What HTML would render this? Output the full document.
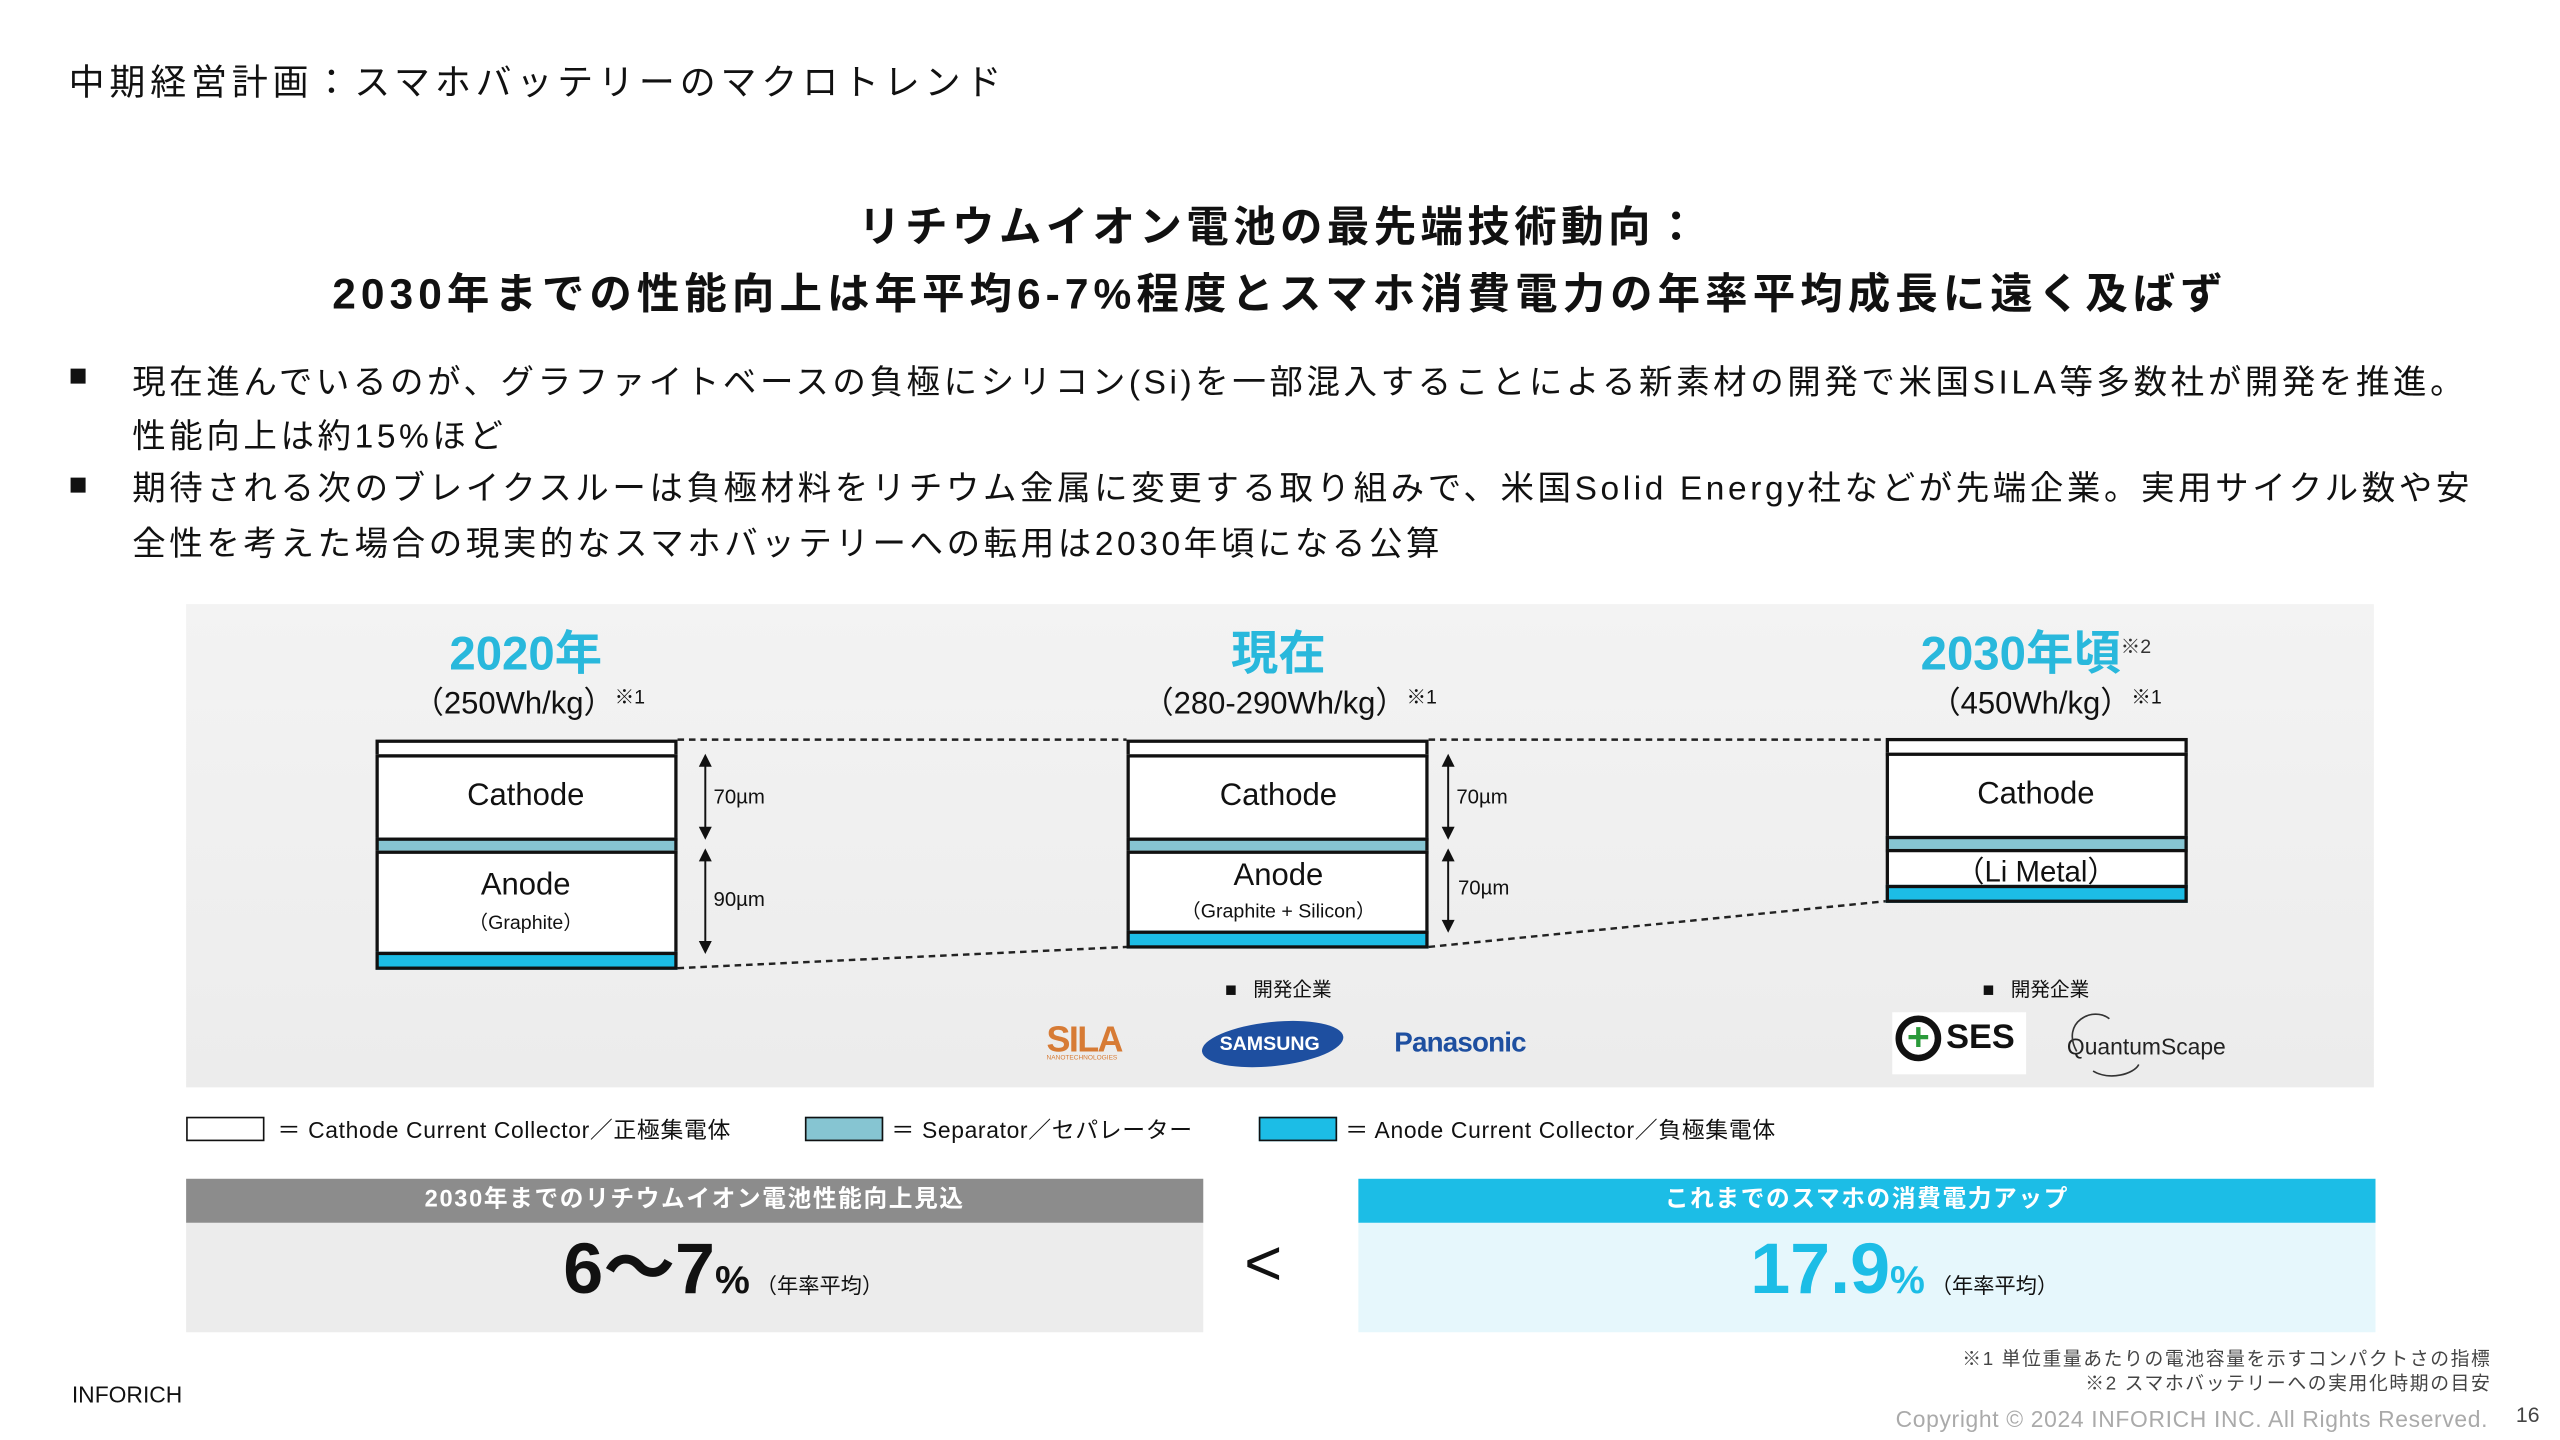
<!DOCTYPE html>
<html><head><meta charset="utf-8"><style>
html,body{margin:0;padding:0;background:#fff;overflow:hidden}
#w{position:absolute;left:0;top:0;width:1568px;height:882px;transform:scale(1.63265);transform-origin:0 0;font-family:"Liberation Sans","Noto Sans CJK JP",sans-serif;color:#111}
.a{position:absolute;white-space:nowrap}
.c{text-align:center;transform:translateX(-50%)}
.box{position:absolute;border:2px solid #111;box-sizing:border-box}
</style></head><body><div id="w">
<div class="a" style="left:42px;top:33px;font-size:22px;letter-spacing:3px">中期経営計画：スマホバッテリーのマクロトレンド</div>
<div class="a c" style="left:784px;top:119px;font-size:26px;font-weight:bold;letter-spacing:2.7px">リチウムイオン電池の最先端技術動向：</div>
<div class="a c" style="left:784px;top:160px;font-size:26px;font-weight:bold;letter-spacing:3.1px">2030年までの性能向上は年平均6-7%程度とスマホ消費電力の年率平均成長に遠く及ばず</div>
<div class="a" style="left:42px;top:220px;font-size:19px">■</div>
<div class="a" style="left:81px;top:218px;font-size:20.5px;line-height:33px;letter-spacing:2.2px">現在進んでいるのが、グラファイトベースの負極にシリコン(Si)を一部混入することによる新素材の開発で米国SILA等多数社が開発を推進。<br>性能向上は約15%ほど</div>
<div class="a" style="left:42px;top:287px;font-size:19px">■</div>
<div class="a" style="left:81px;top:283px;font-size:20.5px;line-height:34px;letter-spacing:2.2px">期待される次のブレイクスルーは負極材料をリチウム金属に変更する取り組みで、米国Solid Energy社などが先端企業。実用サイクル数や安<br>全性を考えた場合の現実的なスマホバッテリーへの転用は2030年頃になる公算</div>

<div class="a" style="left:114px;top:370px;width:1340px;height:296px;background:linear-gradient(#f3f3f3,#ececec)"></div>

<svg class="a" style="left:0;top:0" width="1568" height="882">
<g stroke="#222" stroke-width="1.5" stroke-dasharray="4,3" fill="none">
<line x1="415" y1="453" x2="690" y2="453"/><line x1="875" y1="453" x2="1155" y2="453"/>
<line x1="415" y1="593" x2="690" y2="580"/><line x1="875" y1="580" x2="1155" y2="552"/>
</g>
<g stroke="#111" stroke-width="1.2" fill="#111">
<line x1="432" y1="466" x2="432" y2="510"/><path d="M429 469 L432 463 L435 469Z M429 507 L432 513 L435 507Z"/>
<line x1="432" y1="524" x2="432" y2="580"/><path d="M429 527 L432 521 L435 527Z M429 577 L432 583 L435 577Z"/>
<line x1="887" y1="466" x2="887" y2="510"/><path d="M884 469 L887 463 L890 469Z M884 507 L887 513 L890 507Z"/>
<line x1="887" y1="524" x2="887" y2="567"/><path d="M884 527 L887 521 L890 527Z M884 564 L887 570 L890 564Z"/>
</g>
</svg>

<!-- 2020 -->
<div class="a c" style="left:322px;top:377px;font-size:29px;font-weight:bold;color:#29b8dc">2020年</div>
<div class="a c" style="left:324px;top:416px;font-size:19px">（250Wh/kg）<span style="font-size:12px;vertical-align:6px">※1</span></div>
<div class="box" style="left:230px;top:453px;width:185px;height:11px;background:#fff"></div>
<div class="box" style="left:230px;top:462px;width:185px;height:53px;background:#fff"></div>
<div class="box" style="left:230px;top:513px;width:185px;height:10px;background:#86c5d2"></div>
<div class="box" style="left:230px;top:521px;width:185px;height:64px;background:#fff"></div>
<div class="box" style="left:230px;top:583px;width:185px;height:11px;background:#1cbde6"></div>
<div class="a c" style="left:322px;top:477px;font-size:19px">Cathode</div>
<div class="a c" style="left:322px;top:532px;font-size:19px">Anode</div>
<div class="a c" style="left:322px;top:556px;font-size:12px">（Graphite）</div>
<div class="a" style="left:437px;top:481px;font-size:12.5px">70µm</div>
<div class="a" style="left:437px;top:544px;font-size:12.5px">90µm</div>

<!-- now -->
<div class="a c" style="left:783px;top:377px;font-size:29px;font-weight:bold;color:#29b8dc">現在</div>
<div class="a c" style="left:790px;top:416px;font-size:19px">（280-290Wh/kg）<span style="font-size:12px;vertical-align:6px">※1</span></div>
<div class="box" style="left:690px;top:453px;width:185px;height:11px;background:#fff"></div>
<div class="box" style="left:690px;top:462px;width:185px;height:53px;background:#fff"></div>
<div class="box" style="left:690px;top:513px;width:185px;height:10px;background:#86c5d2"></div>
<div class="box" style="left:690px;top:521px;width:185px;height:51px;background:#fff"></div>
<div class="box" style="left:690px;top:570px;width:185px;height:11px;background:#1cbde6"></div>
<div class="a c" style="left:783px;top:477px;font-size:19px">Cathode</div>
<div class="a c" style="left:783px;top:526px;font-size:19px">Anode</div>
<div class="a c" style="left:783px;top:549px;font-size:12px">（Graphite + Silicon）</div>
<div class="a" style="left:892px;top:481px;font-size:12.5px">70µm</div>
<div class="a" style="left:893px;top:537px;font-size:12.5px">70µm</div>
<div class="a c" style="left:783px;top:597px;font-size:12px">■&nbsp;&nbsp; 開発企業</div>
<div class="a" style="left:641px;top:624px;font-size:22px;font-weight:bold;color:#d77b35;letter-spacing:-1px">SILA</div>
<div class="a" style="left:641px;top:645px;font-size:4px;color:#d77b35">NANOTECHNOLOGIES</div>
<div class="a" style="left:736px;top:626px;width:87px;height:27px;border-radius:50%;background:#1e4fa0;transform:rotate(-6deg)"></div>
<div class="a" style="left:747px;top:632px;font-size:12px;font-weight:bold;color:#fff">SAMSUNG</div>
<div class="a" style="left:854px;top:629px;font-size:17px;font-weight:bold;color:#1e4fa0;letter-spacing:-0.5px">Panasonic</div>

<!-- 2030 -->
<div class="a c" style="left:1247px;top:377px;font-size:29px;font-weight:bold;color:#29b8dc">2030年頃<span style="font-size:12px;color:#333;font-weight:normal;vertical-align:10px">※2</span></div>
<div class="a c" style="left:1253px;top:416px;font-size:19px">（450Wh/kg）<span style="font-size:12px;vertical-align:6px">※1</span></div>
<div class="box" style="left:1155px;top:452px;width:185px;height:11px;background:#fff"></div>
<div class="box" style="left:1155px;top:461px;width:185px;height:53px;background:#fff"></div>
<div class="box" style="left:1155px;top:512px;width:185px;height:10px;background:#86c5d2"></div>
<div class="box" style="left:1155px;top:520px;width:185px;height:24px;background:#fff"></div>
<div class="box" style="left:1155px;top:542px;width:185px;height:11px;background:#1cbde6"></div>
<div class="a c" style="left:1247px;top:476px;font-size:19px">Cathode</div>
<div class="a c" style="left:1247px;top:520px;font-size:18px">（Li Metal）</div>
<div class="a c" style="left:1247px;top:597px;font-size:12px">■&nbsp;&nbsp; 開発企業</div>
<div class="a" style="left:1159px;top:620px;width:82px;height:38px;background:#fff"></div>
<div class="a" style="left:1161px;top:622px;width:28px;height:28px;border:4px solid #111;border-radius:50%;box-sizing:border-box;color:#2a9a3a;font-size:24px;font-weight:bold;line-height:20px;text-align:center">+</div>
<div class="a" style="left:1192px;top:624px;font-size:21px;font-weight:bold">SES</div>
<div class="a" style="left:1266px;top:633px;font-size:14px;color:#222">QuantumScape</div>
<svg class="a" style="left:1262px;top:616px" width="60" height="46"><path d="M10 28 C0 10 20 0 30 8 M20 40 C30 46 45 42 48 36" stroke="#333" fill="none"/></svg>

<!-- legend -->
<div class="a" style="left:114px;top:684px;width:46px;height:13px;border:1.5px solid #111;background:#fff"></div>
<div class="a" style="left:170px;top:682px;font-size:14px;letter-spacing:0.4px">＝ Cathode Current Collector／正極集電体</div>
<div class="a" style="left:493px;top:684px;width:46px;height:13px;border:1.5px solid #111;background:#86c5d2"></div>
<div class="a" style="left:546px;top:682px;font-size:14px;letter-spacing:0.4px">＝ Separator／セパレーター</div>
<div class="a" style="left:771px;top:684px;width:46px;height:13px;border:1.5px solid #111;background:#1cbde6"></div>
<div class="a" style="left:824px;top:682px;font-size:14px;letter-spacing:0.4px">＝ Anode Current Collector／負極集電体</div>

<!-- bottom -->
<div class="a" style="left:114px;top:722px;width:623px;height:27px;background:#8c8c8c;color:#fff;font-size:14.5px;font-weight:bold;text-align:center;line-height:27px;letter-spacing:1px">2030年までのリチウムイオン電池性能向上見込</div>
<div class="a" style="left:114px;top:749px;width:623px;height:67px;background:#ececec"></div>
<div class="a" style="left:345px;top:752px;font-size:44px;font-weight:bold;line-height:52px">6～7<span style="font-size:24px">%</span><span style="font-size:13px;font-weight:normal"> （年率平均）</span></div>
<div class="a" style="left:762px;top:752px;font-size:40px">&lt;</div>
<div class="a" style="left:832px;top:722px;width:623px;height:27px;background:#1cbde6;color:#fff;font-size:14.5px;font-weight:bold;text-align:center;line-height:27px;letter-spacing:1px">これまでのスマホの消費電力アップ</div>
<div class="a" style="left:832px;top:749px;width:623px;height:67px;background:#e6f7fc"></div>
<div class="a" style="left:1072px;top:752px;font-size:44px;font-weight:bold;color:#1cbde6;line-height:52px">17.9<span style="font-size:24px">%</span><span style="font-size:13px;font-weight:normal;color:#111"> （年率平均）</span></div>

<div class="a" style="left:44px;top:846px;font-size:14px">INFORICH</div>
<div class="a" style="right:42px;top:826px;font-size:11.5px;color:#444;text-align:right;line-height:15px;letter-spacing:1px">※1 単位重量あたりの電池容量を示すコンパクトさの指標<br>※2 スマホバッテリーへの実用化時期の目安</div>
<div class="a" style="right:44px;top:861px;font-size:14px;color:#aaa;letter-spacing:0.4px">Copyright © 2024 INFORICH INC. All Rights Reserved.</div>
<div class="a" style="left:1541px;top:859px;font-size:13px;color:#444">16</div>
</div></body></html>
